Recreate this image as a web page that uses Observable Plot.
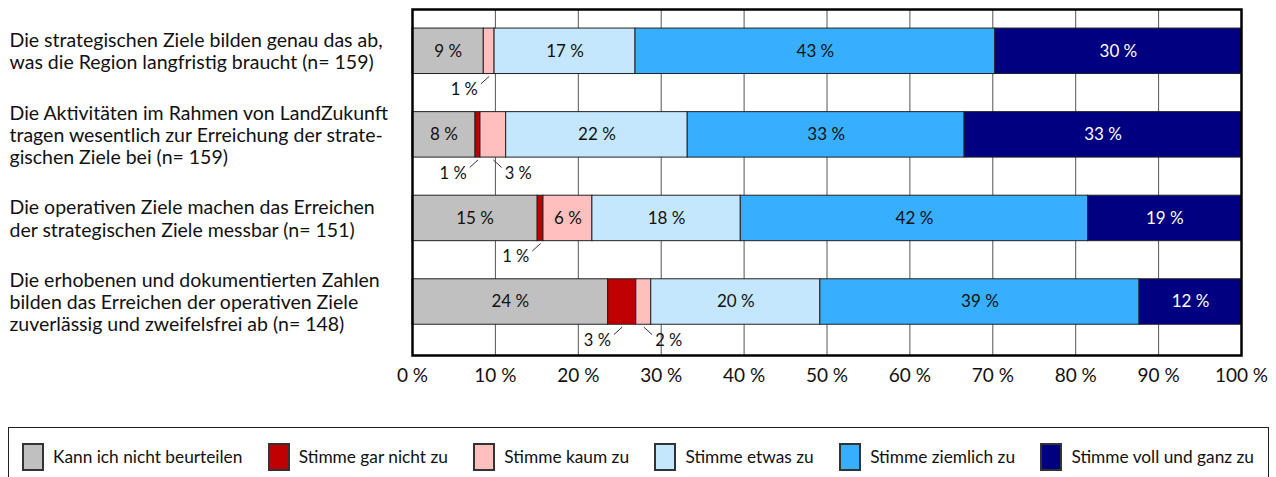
<!DOCTYPE html>
<html><head><meta charset="utf-8">
<script src="https://cdn.jsdelivr.net/npm/d3@7"></script>
<script src="https://cdn.jsdelivr.net/npm/@observablehq/plot@0.6"></script>
<style>
body{margin:0;background:#fff;font-family:Lato,sans-serif;}
#chart svg{display:block;}
#legendBox{position:absolute;left:8px;top:427px;width:1261px;height:60px;border:1.5px solid #222;box-sizing:border-box;}
#legendBox .lg-swatches{display:flex !important;flex-wrap:nowrap !important;justify-content:space-between;padding:12px 14px 0 14px;margin:0 !important;font-family:Lato,sans-serif;font-size:17.3px;color:#111;}
.lg-swatch{margin-right:0 !important;white-space:nowrap;}
.lg-swatch > svg{margin-right:10px !important;}
.lg-swatch rect{stroke:#333;stroke-width:2;}
</style></head><body>
<div id="chart"></div>
<div id="legendBox"></div>
<script>
const statements = [
  "Die strategischen Ziele bilden genau das ab,\nwas die Region langfristig braucht (n= 159)",
  "Die Aktivitäten im Rahmen von LandZukunft\ntragen wesentlich zur Erreichung der strate-\ngischen Ziele bei (n= 159)",
  "Die operativen Ziele machen das Erreichen\nder strategischen Ziele messbar (n= 151)",
  "Die erhobenen und dokumentierten Zahlen\nbilden das Erreichen der operativen Ziele\nzuverlässig und zweifelsfrei ab (n= 148)"
];
const responses = ["Kann ich nicht beurteilen","Stimme gar nicht zu","Stimme kaum zu","Stimme etwas zu","Stimme ziemlich zu","Stimme voll und ganz zu"];
const colors = ["#C0C0C0","#C00000","#FFBFBF","#C5E7FD","#38AEFF","#000080"];
const kannNicht = [8.6, 7.6, 15.1, 23.6];
const garNicht  = [0,   0.6, 0.7,  3.4];
const kaum      = [1.3, 3.1, 5.9,  1.8];
const etwas     = [17.0,21.9,17.9, 20.4];
const ziemlich  = [43.4,33.4,41.9, 38.5];
const vollGanz  = [29.7,33.4,18.5, 12.3];
const xTicks = [0,10,20,30,40,50,60,70,80,90,100];

const series = [kannNicht, garNicht, kaum, etwas, ziemlich, vollGanz];
const segs = [];
statements.forEach((s, i) => {
  let cum = 0;
  series.forEach((arr, k) => {
    const v = arr[i];
    if (v > 0) {
      segs.push({row: i, resp: responses[k], k, v, x1: cum, x2: cum + v, mid: cum + v / 2,
                 label: Math.round(v) + " %",
                 side: k === 1 ? -1 : (garNicht[i] > 0 ? 1 : -1)});
    }
    cum += v;
  });
});
const inside = segs.filter(d => d.v >= 4);
const outside = segs.filter(d => d.v < 4);
const half = 0.272;

const chart = Plot.plot({
  width: 1276,
  height: 400,
  marginTop: 9,
  marginBottom: 45,
  marginLeft: 412,
  marginRight: 35,
  style: {fontFamily: "Lato, sans-serif", background: "white", color: "#111"},
  x: {domain: [0, 100], axis: null},
  y: {domain: [-0.5, 3.64], reverse: true, axis: null},
  color: {domain: responses, range: colors},
  marks: [
    Plot.ruleX(xTicks.slice(1, -1), {stroke: "#555", strokeWidth: 1}),
    Plot.rect(segs, {x1: "x1", x2: "x2", y1: d => d.row - half, y2: d => d.row + half, fill: "resp", stroke: "#222", strokeWidth: 1}),
    Plot.text(inside, {x: "mid", y: "row", text: "label", fontSize: 17,
      fill: d => d.k === 5 ? "white" : "#111"}),
    Plot.link(outside, {x1: "mid", x2: d => d.mid + d.side * 1, y1: d => d.row + 0.30, y2: d => d.row + 0.39, stroke: "#333", strokeWidth: 1}),
    Plot.text(outside, {x: d => d.mid + d.side * 3, y: d => d.row + 0.46, text: "label", fontSize: 16.5, fill: "#111"}),
    Plot.text(statements, {y: (d, i) => i, text: d => d, frameAnchor: "left", textAnchor: "start", dx: -403,
      lineAnchor: "middle", lineHeight: 1.13, fontSize: 19.5, fill: "#111"}),
    Plot.axisX(xTicks, {tickFormat: d => d + " %", tickSize: 0, tickPadding: 13, fontSize: 19, label: null, fill: "#111"}),
    Plot.frame({stroke: "#000", strokeWidth: 2.5})
  ]
});
document.getElementById("chart").append(chart);

const legend = Plot.legend({
  color: {domain: responses, range: colors},
  legend: "swatches",
  swatchWidth: 20,
  swatchHeight: 26,
  className: "lg"
});
document.getElementById("legendBox").append(legend);
</script>
</body></html>
